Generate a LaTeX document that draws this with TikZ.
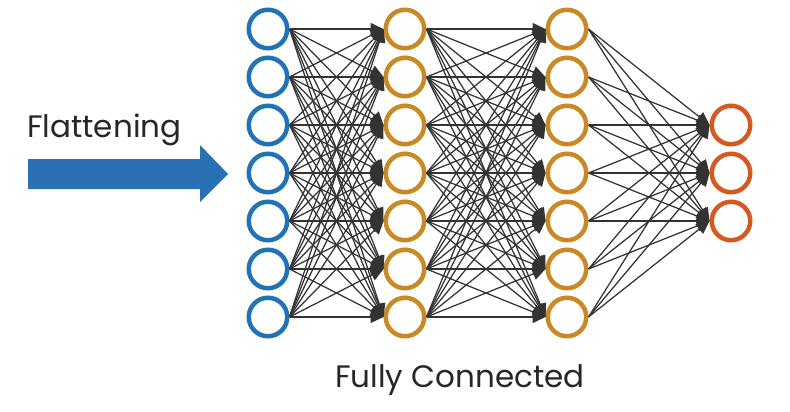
\documentclass[tikz,border=0pt]{standalone}
\usepackage{fontspec}
\setmainfont{Poppins}
\usetikzlibrary{arrows.meta}
\definecolor{inblue}{HTML}{2272B6}
\definecolor{hidgold}{HTML}{C98A25}
\definecolor{outred}{HTML}{D45A22}
\definecolor{wiregray}{HTML}{333333}
\definecolor{flatblue}{HTML}{2A70B5}
\tikzset{
  neuron/.style={circle, draw, line width=4.5pt, minimum size=38.5pt, inner sep=0pt},
  inn/.style={neuron, draw=inblue},
  hid/.style={neuron, draw=hidgold},
  outn/.style={neuron, draw=outred},
  wire/.style={draw=wiregray, line width=1.25pt, -{Triangle[length=13pt,width=12pt]}},
  lab/.style={font=\fontsize{31}{34}\selectfont, text=black!85, inner sep=0pt},
}
\begin{document}
\begin{tikzpicture}[x=1pt,y=-1pt]
  \useasboundingbox (0,0) rectangle (790,412);
  % layers
  \foreach \j in {1,...,7} {
    \node[inn] (i\j) at (268,{29+48*(\j-1)}) {};
    \node[hid] (a\j) at (405,{29+48*(\j-1)}) {};
    \node[hid] (b\j) at (567,{29+48*(\j-1)}) {};
  }
  \foreach \j in {1,2,3}
    \node[outn] (o\j) at (731,{125+48*(\j-1)}) {};
  % connections
  \foreach \s in {1,...,7}
    \foreach \t in {1,...,7} {
      \draw[wire] (i\s.east) -- (a\t.west);
      \draw[wire] (a\s.east) -- (b\t.west);
    }
  \foreach \s in {1,...,7}
    \foreach \t in {1,2,3}
      \draw[wire] (b\s.east) -- (o\t.west);
  % flattening arrow
  \fill[flatblue] (28,159) -- (200,159) -- (200,145) -- (228,174)
    -- (200,202) -- (200,189) -- (28,189) -- cycle;
  \node[lab, anchor=base west] (flat) at (27,137) {Flattening};
  \node[lab, anchor=base west] (fc) at (335,387) {Fully Connected};
\end{tikzpicture}
\end{document}
